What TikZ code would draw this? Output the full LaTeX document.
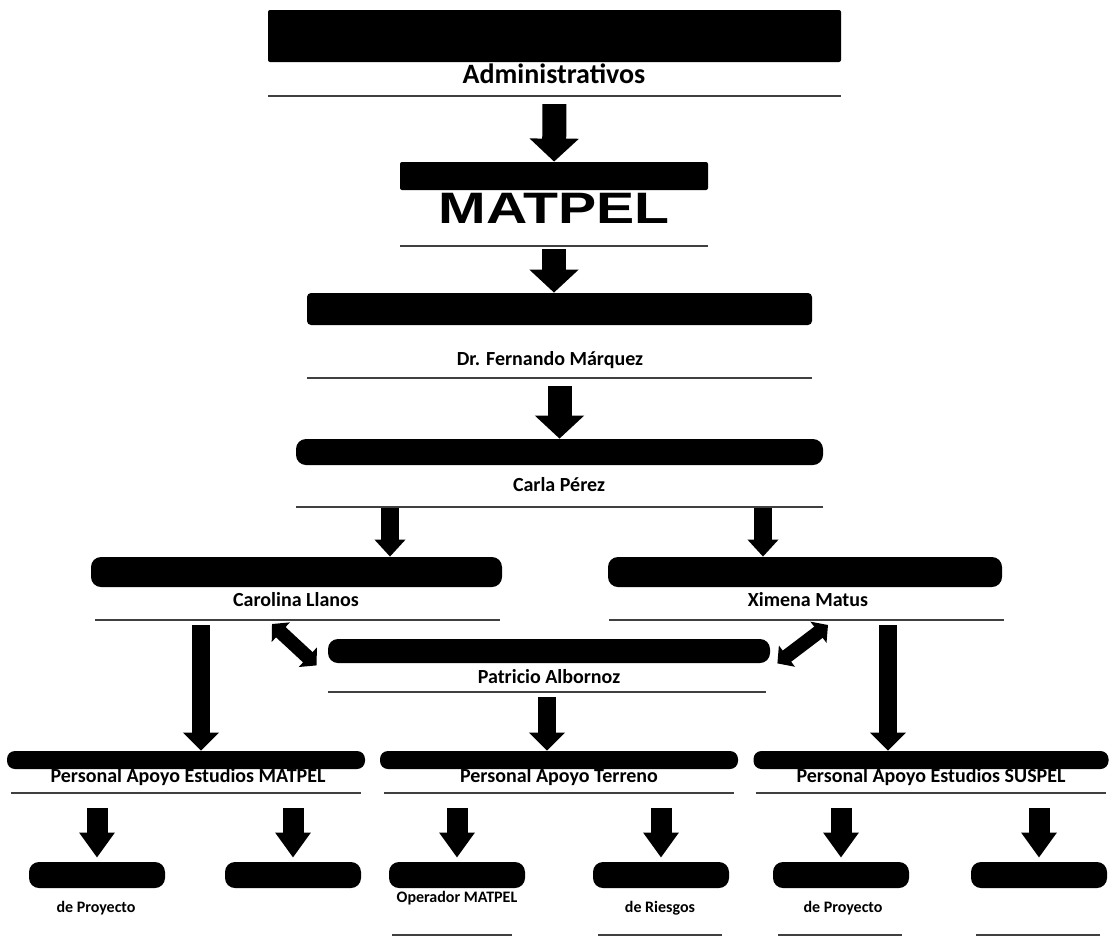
\documentclass[tikz,border=0pt]{standalone}
\usepackage{fontspec}
\setmainfont{Carlito}
\newfontfamily\arialb{Liberation Sans}
\usetikzlibrary{arrows.meta}

\begin{document}
\begin{tikzpicture}[
  x=0.5pt, y=-0.5pt,
  bar/.style={fill=black, inner sep=0pt, rounded corners=4pt},
  box/.style={bar, rounded corners=5pt, minimum width=68pt, minimum height=13pt},
  who/.style={font=\bfseries\fontsize{10}{12}\selectfont, inner sep=0pt},
  tiny/.style={font=\bfseries\fontsize{8}{9}\selectfont, inner sep=0pt},
  rule/.style={fill=black!75, inner sep=0pt, minimum height=0.7pt},
  blk/.style={line width=12pt, -{Triangle[length=11.5pt,width=24pt]}},
  mid/.style={line width=9pt, -{Triangle[length=8.5pt,width=15pt]}},
  lng/.style={line width=9pt, -{Triangle[length=9pt,width=17.5pt]}},
  sml/.style={line width=10.5pt, -{Triangle[length=12.5pt,width=17pt]}},
  dbl/.style={line width=7pt, {Triangle[length=6pt,width=13pt]}-{Triangle[length=6pt,width=13pt]}},
]
\useasboundingbox (0,0) rectangle (1110,938);

% top of the chart
\node[bar, rounded corners=1pt, minimum width=286.5pt, minimum height=26pt] (adm) at (554.5,36) {};
\node[who, font=\bfseries\fontsize{14}{16}\selectfont] (admt) at (554,74) {Administrativos};
\node[rule, minimum width=286.5pt] (admr) at (554.5,96) {};

\node[bar, rounded corners=1pt, minimum width=154pt, minimum height=14pt] (mat) at (554,176) {};
\node[who, font=\arialb\bfseries\fontsize{22}{24}\selectfont] (matt) at (554,208) {\scalebox{1.3}[1]{MATPEL}};
\node[rule, minimum width=154pt] (matr) at (554,246) {};

\node[bar, rounded corners=2pt, minimum width=252.5pt, minimum height=16pt] (dir) at (559.5,309) {};
\node[who] (dirt) at (550,360) {Dr. Fernando Márquez};
\node[rule, minimum width=252.5pt] (dirr) at (559.5,378) {};

\node[bar, rounded corners=5pt, minimum width=263.5pt, minimum height=13pt] (car) at (559.5,452) {};
\node[who] (cart) at (559,485) {Carla Pérez};
\node[rule, minimum width=263.5pt] (carr) at (559.5,507) {};

% second level
\node[bar, rounded corners=5pt, minimum width=205.5pt, minimum height=15pt] (lla) at (296.5,572) {};
\node[who] (llat) at (296,600) {Carolina Llanos};
\node[rule, minimum width=202.5pt] (llar) at (297,620) {};

\node[bar, rounded corners=5pt, minimum width=197pt, minimum height=15pt] (xim) at (805,572) {};
\node[who] (ximt) at (808,600) {Ximena Matus};
\node[rule, minimum width=197.5pt] (ximr) at (806,620) {};

\node[bar, rounded corners=5pt, minimum width=221pt, minimum height=12pt] (alb) at (549,651) {};
\node[who] (albt) at (549,677) {Patricio Albornoz};
\node[rule, minimum width=219pt] (albr) at (547,692) {};

% support staff
\node[bar, minimum width=179pt, minimum height=9pt] (pm) at (186,760) {};
\node[who] (pmt) at (188,777) {Personal Apoyo Estudios MATPEL};
\node[rule, minimum width=175pt] (pmr) at (186,793) {};

\node[bar, minimum width=179pt, minimum height=9pt] (pt) at (559,760) {};
\node[who] (ptt) at (559,777) {Personal Apoyo Terreno};
\node[rule, minimum width=175pt] (ptr) at (559,793) {};

\node[bar, minimum width=177.5pt, minimum height=9pt] (ps) at (931,760) {};
\node[who] (pst) at (931,777) {Personal Apoyo Estudios SUSPEL};
\node[rule, minimum width=175pt] (psr) at (931,793) {};

% bottom boxes
\node[box] (b1) at (97,875) {};
\node[box] (b2) at (293,875) {};
\node[box] (b3) at (457,875) {};
\node[box] (b4) at (661,875) {};
\node[box] (b5) at (841,875) {};
\node[box] (b6) at (1039,875) {};
\node[tiny] (b1t) at (96,908) {de Proyecto};
\node[tiny] (b3t) at (457,898) {Operador MATPEL};
\node[tiny] (b4t) at (660,908) {de Riesgos};
\node[tiny] (b5t) at (843,908) {de Proyecto};
\node[rule, minimum width=60pt] (b3r) at (452,935) {};
\node[rule, minimum width=62pt] (b4r) at (660,935) {};
\node[rule, minimum width=62pt] (b5r) at (840,935) {};
\node[rule, minimum width=62pt] (b6r) at (1038,935) {};

% arrows
\draw[blk, shorten <=3.5pt] (admr) -- (mat);
\draw[blk, shorten <=1pt] (matr.south) -- (matr.south |- dir.north);
\draw[blk, shorten <=3.5pt] (dirr) -- (car);

\coordinate (cl) at (390,0);
\coordinate (cr) at (763,0);
\draw[mid] (carr.south -| cl) -- (lla.north -| cl);
\draw[mid] (carr.south -| cr) -- (xim.north -| cr);

\coordinate (dl) at (272,624);
\coordinate (dr) at (828,625);
\draw[dbl] (dl) -- ([shift={(-5.5pt,-1pt)}]alb.south west);
\draw[dbl] (dr) -- ([xshift=3.5pt]alb.south east);

\coordinate (ll) at (201,625);
\coordinate (lr) at (888,625);
\draw[lng] (ll) -- (ll |- pm.north);
\draw[lng] (lr) -- (lr |- ps.north);
\draw[lng, shorten <=2pt] (albr.south) -- (albr.south |- pt.north);

\foreach \b in {b1,b2,b3} \draw[sml, shorten <=7pt, shorten >=2pt] (\b |- pmr.south) -- (\b.north);
\foreach \b in {b4,b5,b6} \draw[sml, shorten <=7pt, shorten >=2pt] (\b |- psr.south) -- (\b.north);
\end{tikzpicture}
\end{document}
